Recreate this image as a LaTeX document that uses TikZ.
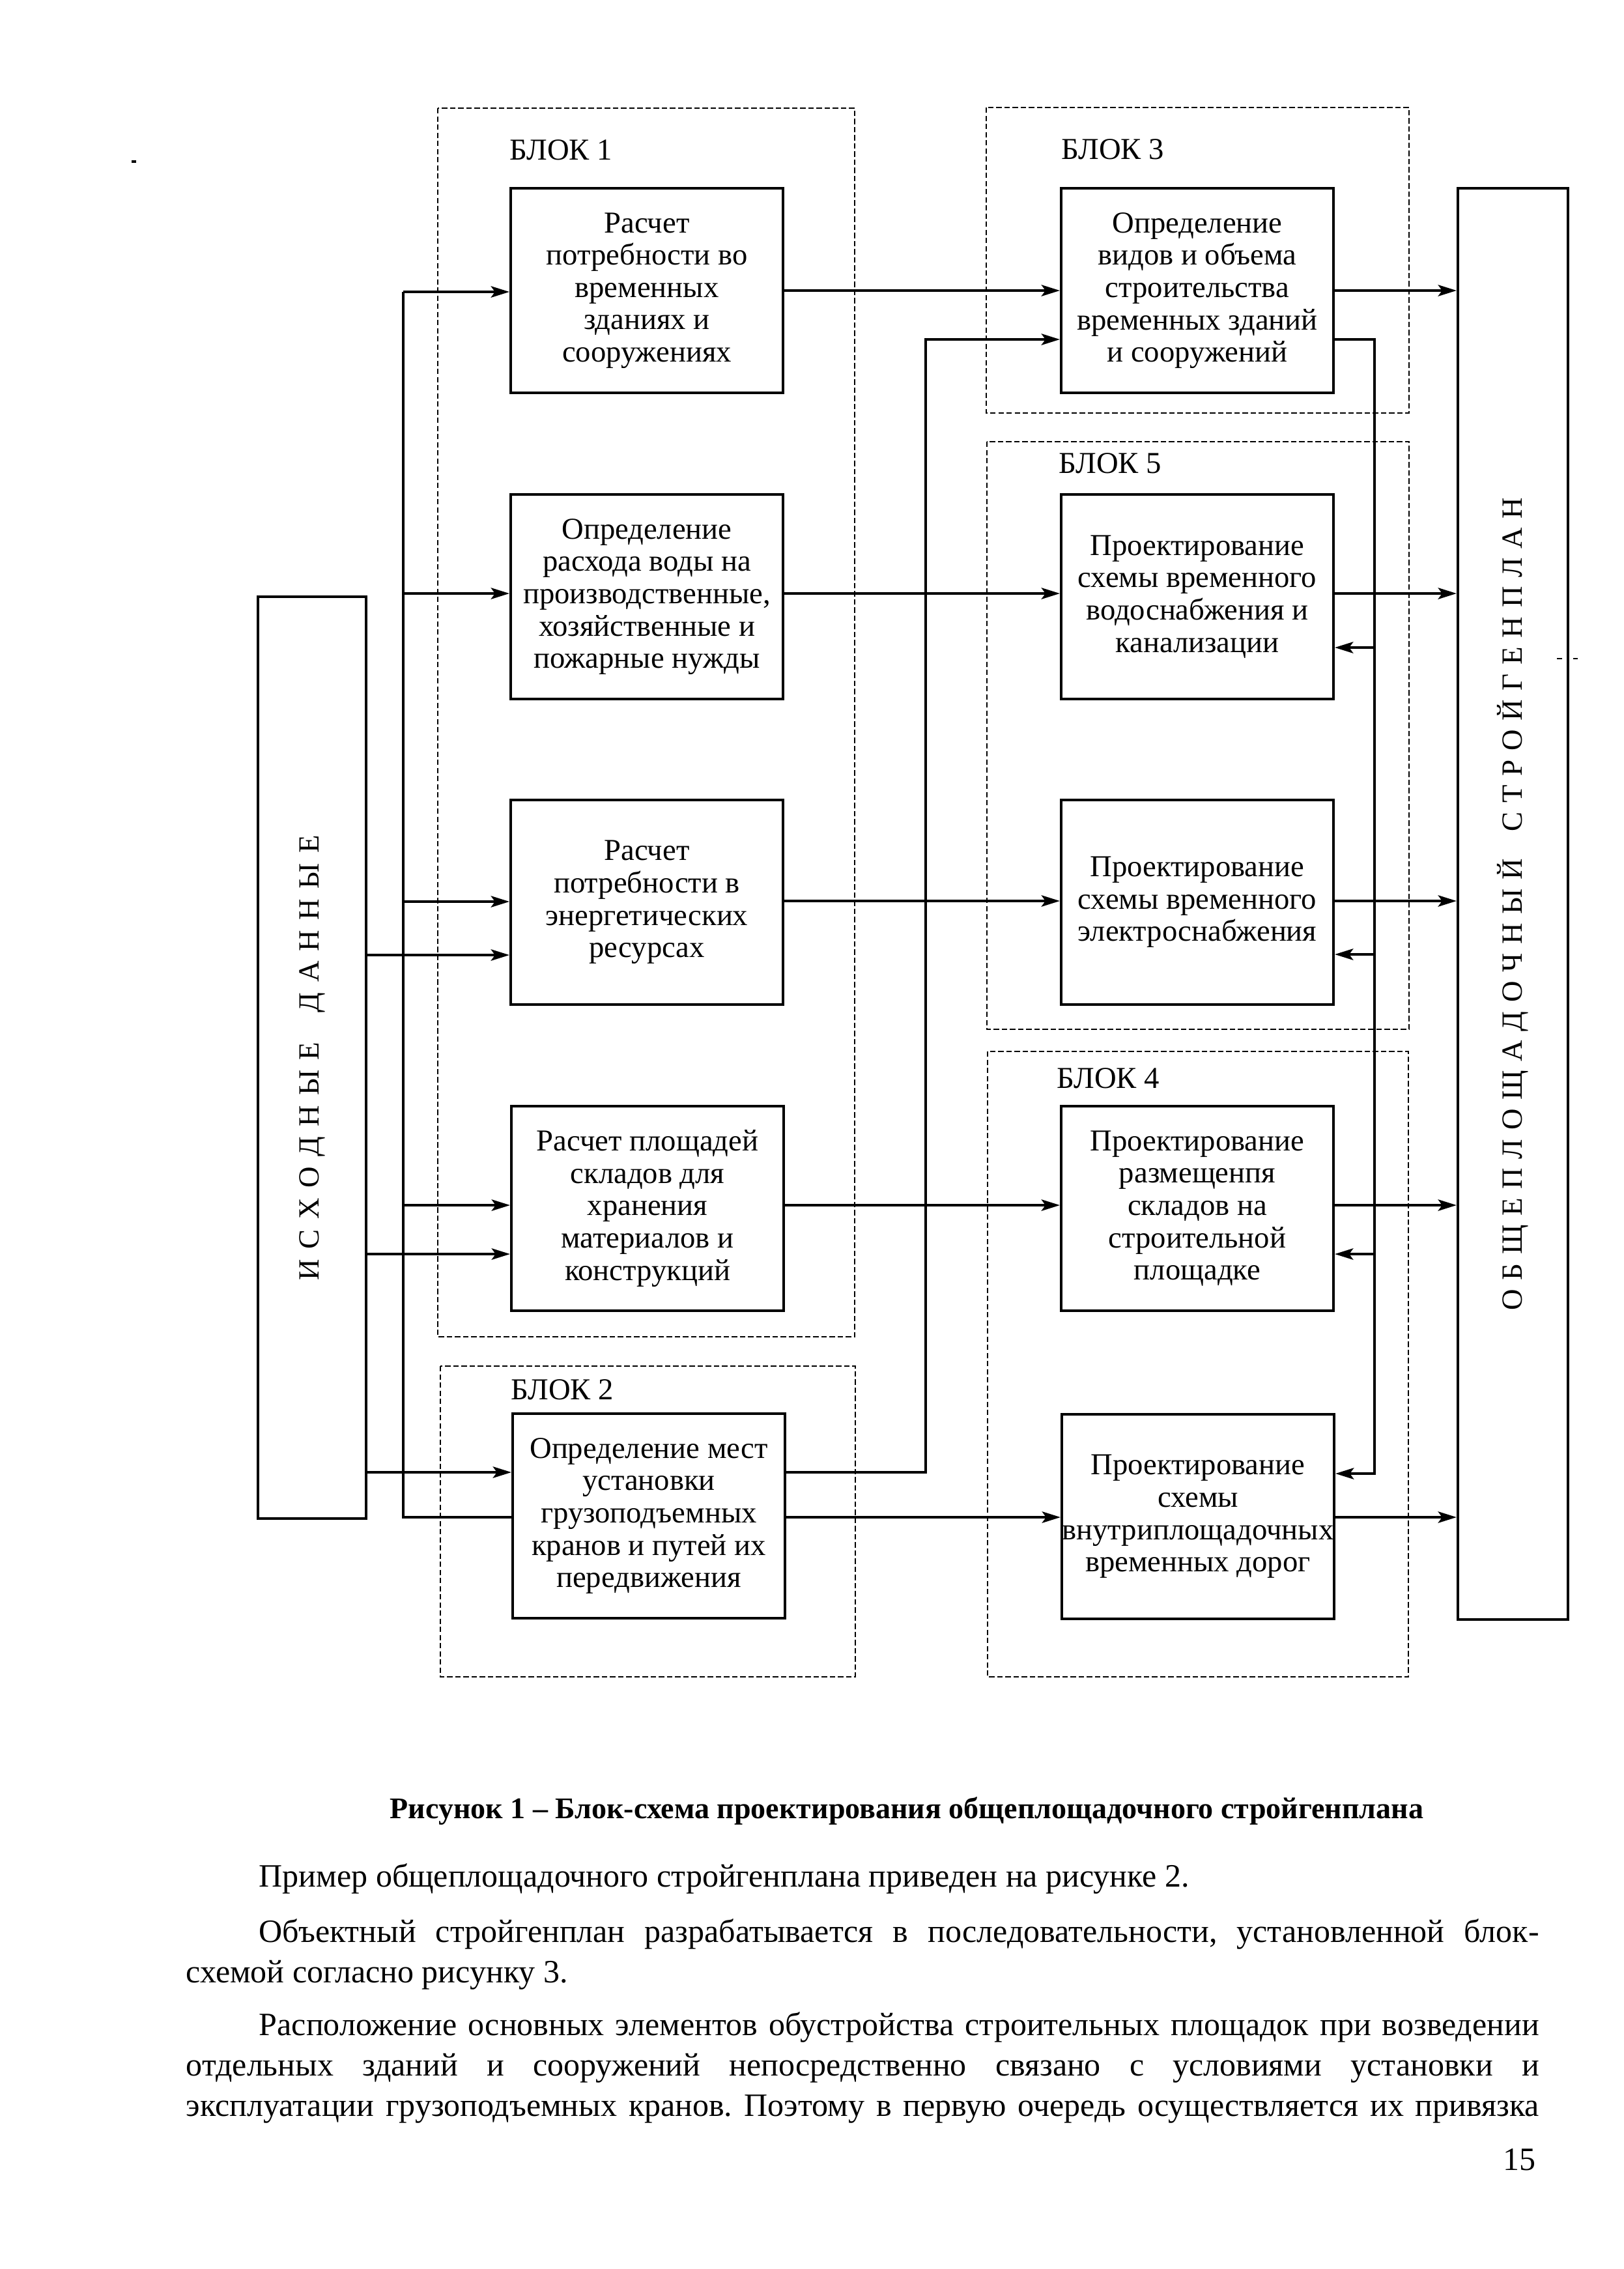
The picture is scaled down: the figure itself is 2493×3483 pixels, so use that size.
\documentclass[tikz,border=0pt]{standalone}
\usepackage{fontspec}
\setmainfont{Liberation Serif}
\usetikzlibrary{arrows.meta}
\frenchspacing
\newcommand\dfont{\fontsize{11.2}{11.9}\selectfont}
\newcommand\bfont{\fontsize{12}{13.3}\selectfont\frenchspacing}
\newcommand\cfont{\fontsize{11.05}{13}\selectfont\bfseries}
\begin{document}
\begin{tikzpicture}[x=0.24pt,y=-0.24pt,
  box/.style={draw,line width=1pt,minimum width=100.3pt,minimum height=75.2pt,inner sep=0pt,align=center,font=\dfont},
  tallbox/.style={draw,line width=1pt,inner sep=0pt,font=\dfont},
  grp/.style={draw,line width=0.45pt,dash pattern=on 2pt off 1pt},
  ln/.style={line width=0.85pt},
  arr/.style={ln,-{Stealth[length=6.8pt,width=4.2pt,inset=1.5pt]}},
  lbl/.style={anchor=base west,inner sep=0pt,font=\dfont},
  body/.style={anchor=base west,inner sep=0pt,font=\bfont},
]
\useasboundingbox[fill=white] (0,0) rectangle (2493,3483);

% dashed groups
\draw[grp] (672,166) rectangle (1312,2052);
\draw[grp] (676,2097) rectangle (1313,2574);
\draw[grp] (1514,165) rectangle (2163,634);
\draw[grp] (1515,678) rectangle (2163,1580);
\draw[grp] (1516,1614) rectangle (2162,2574);

\node[lbl] (L1) at (782,245) {БЛОК 1};
\node[lbl] (L3) at (1629,244) {БЛОК 3};
\node[lbl] (L5) at (1625,726) {БЛОК 5};
\node[lbl] (L4) at (1622,1670) {БЛОК 4};
\node[lbl] (L2) at (784,2148) {БЛОК 2};

% boxes
\node[box] (b1) at (993,446) {Расчет\\потребности во\\временных\\зданиях и\\сооружениях};
\node[box] (b2) at (993,916) {Определение\\расхода воды на\\производственные,\\хозяйственные и\\пожарные нужды};
\node[box] (b3) at (993,1385) {Расчет\\потребности в\\энергетических\\ресурсах};
\node[box] (b4) at (994,1855) {Расчет площадей\\складов для\\хранения\\материалов и\\конструкций};
\node[box] (b5) at (996,2327) {Определение мест\\установки\\грузоподъемных\\кранов и путей их\\передвижения};
\node[box] (b6) at (1838,446) {Определение\\видов и объема\\строительства\\временных зданий\\и сооружений};
\node[box] (b7) at (1838,916) {Проектирование\\схемы временного\\водоснабжения и\\канализации};
\node[box] (b8) at (1838,1385) {Проектирование\\схемы временного\\электроснабжения};
\node[box] (b9) at (1838,1855) {Проектирование\\размещенпя\\складов на\\строительной\\площадке};
\node[box] (b10) at (1839,2328) {Проектирование\\схемы\\внутриплощадочных\\временных дорог};

\node[tallbox,minimum width=39.84pt,minimum height=339.6pt] (id) at (479,1623.5)
  {\rotatebox{90}{\fontsize{10.8}{12}\selectfont\spaceskip=3.7pt И С Х О Д Н Ы Е\hspace{11pt}Д А Н Н Ы Е}};
\node[tallbox,minimum width=40.56pt,minimum height=527.3pt] (osg) at (2322.5,1387.5)
  {\rotatebox{90}{\fontsize{10.8}{12}\selectfont\spaceskip=3.3pt О Б Щ Е П Л О Щ А Д О Ч Н Ы Й\hspace{10pt}С Т Р О Й Г Е Н П Л А Н}};

% left bus
\coordinate (t1) at (619,448);
\coordinate (t2) at (619,911);
\coordinate (t3) at (619,1384);
\coordinate (t4) at (619,1850);
\coordinate (tb) at (619,2329);
\draw[ln] (t1) -- (tb) -- (b5.west |- tb);
\draw[arr] (t1) -- (b1.west |- t1);
\draw[arr] (t2) -- (b2.west |- t2);
\draw[arr] (t3) -- (b3.west |- t3);
\draw[arr] (t4) -- (b4.west |- t4);

% from initial data
\coordinate (s3) at (0,1466);
\coordinate (s4) at (0,1925);
\coordinate (s5) at (0,2260);
\draw[arr] (id.east |- s3) -- (b3.west |- s3);
\draw[arr] (id.east |- s4) -- (b4.west |- s4);
\draw[arr] (id.east |- s5) -- (b5.west |- s5);

% middle
\coordinate (m1) at (0,446);
\coordinate (m2) at (0,911);
\coordinate (m3) at (0,1383);
\coordinate (m4) at (0,1850);
\coordinate (m5) at (0,2329);
\draw[arr] (b1.east |- m1) -- (b6.west |- m1);
\draw[arr] (b2.east |- m2) -- (b7.west |- m2);
\draw[arr] (b3.east |- m3) -- (b8.west |- m3);
\draw[arr] (b4.east |- m4) -- (b9.west |- m4);
\draw[arr] (b5.east |- m5) -- (b10.west |- m5);
\coordinate (u1) at (1421,2260);
\coordinate (u2) at (1421,521);
\draw[arr] (b5.east |- u1) -- (u1) -- (u2) -- (b6.west |- u2);

% right outputs
\draw[arr] (b6.east |- m1) -- (osg.west |- m1);
\draw[arr] (b7.east |- m2) -- (osg.west |- m2);
\draw[arr] (b8.east |- m3) -- (osg.west |- m3);
\draw[arr] (b9.east |- m4) -- (osg.west |- m4);
\draw[arr] (b10.east |- m5) -- (osg.west |- m5);

% feedback
\coordinate (f1) at (2110,521);
\coordinate (f2) at (2110,994);
\coordinate (f3) at (2110,1465);
\coordinate (f4) at (2110,1925);
\coordinate (f5) at (2110,2262);
\draw[arr] (b6.east |- f1) -- (f1) -- (f5) -- (b10.east |- f5);
\draw[arr] (f2) -- (b7.east |- f2);
\draw[arr] (f3) -- (b8.east |- f3);
\draw[arr] (f4) -- (b9.east |- f4);

% scan marks
\draw[line width=0.8pt] (202,248) -- (209,248);
\draw[line width=0.6pt] (2390,1011) -- (2398,1011) (2415,1011) -- (2422,1011);

% caption and text
\node[anchor=base,inner sep=0pt,font=\cfont] (cap) at (1392,2791) {Рисунок 1 – Блок-схема проектирования общеплощадочного стройгенплана};
\node[body] (p1) at (397,2896) {Пример общеплощадочного стройгенплана приведен на рисунке 2.};
\node[body] (p2) at (397,2981) {\makebox[471.6pt][s]{Объектный стройгенплан разрабатывается в последовательности, установленной блок-}};
\node[body] (p3) at (285,3043) {схемой согласно рисунку 3.};
\node[body] (p4) at (397,3124) {\makebox[471.6pt][s]{Расположение основных элементов обустройства строительных площадок при возведении}};
\node[body] (p5) at (285,3186) {\makebox[498.5pt][s]{отдельных зданий и сооружений непосредственно связано с условиями установки и}};
\node[body] (p6) at (285,3248) {\makebox[498.5pt][s]{эксплуатации грузоподъемных кранов. Поэтому в первую очередь осуществляется их привязка}};
\node[anchor=base east,inner sep=0pt,font=\bfont] (pg) at (2358,3331) {15};
\end{tikzpicture}
\end{document}
